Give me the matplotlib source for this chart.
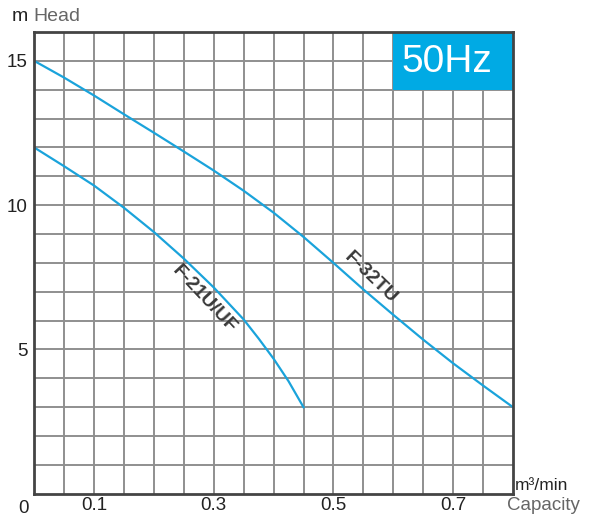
import numpy as np
import matplotlib.pyplot as plt
from matplotlib.patches import Rectangle

plt.rcParams['font.family'] = ['Liberation Sans', 'DejaVu Sans']

# Кривые напор-расход (м^3/мин, м)
q_32 = [0, 0.05, 0.1, 0.15, 0.2, 0.25, 0.3, 0.35, 0.4, 0.45, 0.5, 0.55, 0.6, 0.65, 0.7, 0.75, 0.8]
h_32 = [15, 14.42, 13.8, 13.15, 12.51, 11.86, 11.2, 10.5, 9.74, 8.9, 8.0, 7.08, 6.2, 5.34, 4.52, 3.75, 3.0]
q_21 = [0, 0.05, 0.1, 0.15, 0.2, 0.25, 0.3, 0.35, 0.375, 0.4, 0.425, 0.45]
h_21 = [12, 11.35, 10.68, 9.91, 9.07, 8.15, 7.15, 6.04, 5.38, 4.68, 3.9, 3.0]

x_ticks = [0.1, 0.3, 0.5, 0.7]
y_ticks = [5, 10, 15]

blue = '#1aa3db'
grid_col = '#8f8f8f'

fig = plt.figure(figsize=(5.89, 5.16), dpi=100)
ax = fig.add_axes([0.058, 0.043, 0.813, 0.895])

ax.set_xlim(0, 0.8)
ax.set_ylim(0, 16)

# сетка
for gx in np.arange(0.05, 0.8, 0.05):
    ax.axvline(gx, color=grid_col, lw=1.4, zorder=1)
for gy in range(1, 16):
    ax.axhline(gy, color=grid_col, lw=1.4, zorder=1)

ax.plot(q_32, h_32, color=blue, lw=1.6, zorder=3)
ax.plot(q_21, h_21, color=blue, lw=1.6, zorder=3)

ax.text(0.284, 6.75, 'F-21U/UF', rotation=-47, ha='center', va='center',
        fontsize=14, fontweight='bold', color='#3a3a3a', zorder=4)
ax.text(0.563, 7.5, 'F-32TU', rotation=-44, ha='center', va='center',
        fontsize=14, fontweight='bold', color='#3a3a3a', zorder=4)

# плашка 50Hz
ax.add_patch(Rectangle((0.6, 14), 0.2, 2, facecolor='#00aae4', edgecolor='none', zorder=5))
ax.text(0.613, 14.95, '50Hz', color='white', fontsize=28, ha='left', va='center', zorder=6)

for s in ax.spines.values():
    s.set_color('#444444')
    s.set_linewidth(2)
    s.set_zorder(7)

ax.set_xticks(x_ticks)
ax.set_xticklabels([str(v) for v in x_ticks])
ax.set_yticks(y_ticks)
ax.set_yticklabels([str(v) for v in y_ticks])
ax.tick_params(length=0, labelsize=13.5, colors='#222222', pad=2.5)
ax.tick_params(axis='y', pad=5)

ax.text(-0.009, -0.2, '0', transform=ax.transData, ha='right', va='top',
        fontsize=13.5, color='#222222')

fig.text(0.02, 0.968, 'm', fontsize=14, color='#222222', ha='left', va='center')
fig.text(0.057, 0.968, 'Head', fontsize=14, color='#666666', ha='left', va='center')
fig.text(0.874, 0.06, 'm³/min', fontsize=12.5, color='#222222', ha='left', va='center')
fig.text(0.861, 0.02, 'Capacity', fontsize=13.5, color='#666666', ha='left', va='center')

fig.savefig('out.png', dpi=100)
